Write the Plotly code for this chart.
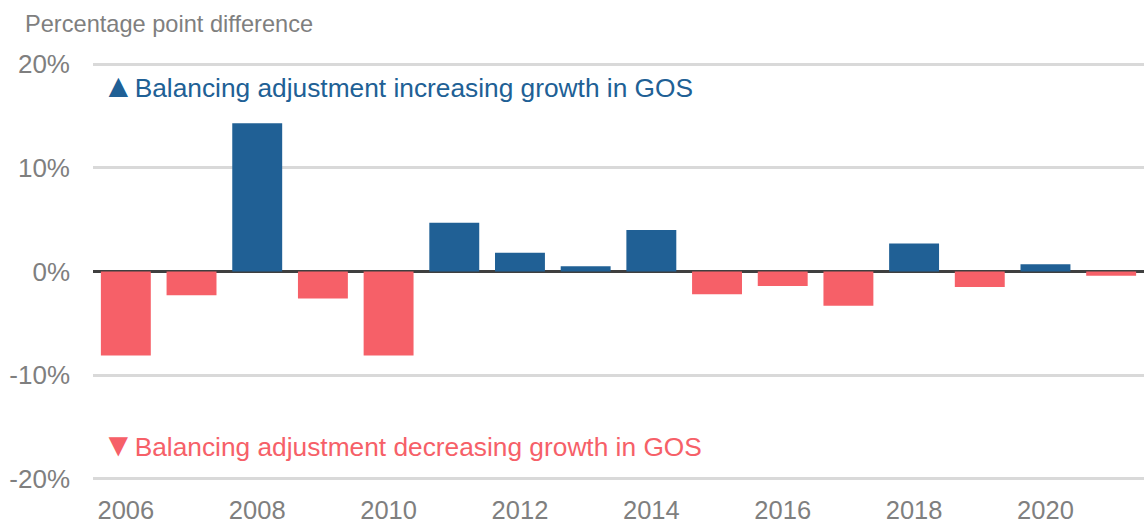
import plotly.graph_objects as go

# Balancing adjustment, percentage point difference in GOS growth
years = [2006, 2007, 2008, 2009, 2010, 2011, 2012, 2013,
         2014, 2015, 2016, 2017, 2018, 2019, 2020, 2021]
values = [-8.1, -2.3, 14.3, -2.6, -8.1, 4.7, 1.8, 0.5,
          4.0, -2.2, -1.4, -3.3, 2.7, -1.5, 0.7, -0.4]

x_ticks = [2006, 2008, 2010, 2012, 2014, 2016, 2018, 2020]
y_ticks = [-20, -10, 0, 10, 20]
y_labels = ["-20%", "-10%", "0%", "10%", "20%"]

BLUE = "#206095"
CORAL = "#F66068"
GREY = "#7f7f7f"
FONT = "Liberation Sans, Arial, sans-serif"

colors = [BLUE if v >= 0 else CORAL for v in values]

fig = go.Figure(
    go.Bar(
        x=years,
        y=values,
        marker=dict(color=colors, line=dict(width=0)),
        width=0.76,
        hoverinfo="x+y",
    )
)

plot_w = 1051

fig.update_layout(
    width=1144,
    height=525,
    margin=dict(l=93, r=0, t=61, b=43),
    paper_bgcolor="white",
    plot_bgcolor="white",
    showlegend=False,
    font=dict(family=FONT, color=GREY, size=26),
    xaxis=dict(
        range=[2005.5, 2021.5],
        tickmode="array",
        tickvals=x_ticks,
        ticktext=[str(t) for t in x_ticks],
        showgrid=False,
        zeroline=False,
        showline=False,
        ticks="",
        automargin=False,
        ticklabelstandoff=10,
        tickfont=dict(family=FONT, size=25.5, color=GREY),
    ),
    yaxis=dict(
        range=[-20.3, 20.3],
        tickmode="array",
        tickvals=y_ticks,
        ticktext=y_labels,
        showgrid=True,
        gridcolor="#d9d9d9",
        gridwidth=2.5,
        zeroline=True,
        zerolinecolor="#3f3f3f",
        zerolinewidth=2.5,
        showline=False,
        ticks="",
        automargin=False,
        ticklabelstandoff=22,
        tickfont=dict(family=FONT, size=26, color=GREY),
    ),
    annotations=[
        dict(
            text="Percentage point difference",
            xref="paper", yref="paper",
            x=-70 / plot_w, y=1,
            xanchor="left", yanchor="bottom", yshift=22,
            showarrow=False,
            font=dict(family=FONT, size=23.6, color=GREY),
        ),
        dict(
            text="<span style='font-size:33px'>▲</span>Balancing adjustment increasing growth in GOS",
            xref="paper", yref="y",
            x=7 / plot_w, y=17.95,
            xanchor="left", yanchor="middle",
            showarrow=False,
            font=dict(family=FONT, size=26.3, color=BLUE),
        ),
        dict(
            text="<span style='font-size:33px'>▼</span>Balancing adjustment decreasing growth in GOS",
            xref="paper", yref="y",
            x=7 / plot_w, y=-16.65,
            xanchor="left", yanchor="middle",
            showarrow=False,
            font=dict(family=FONT, size=26.3, color=CORAL),
        ),
    ],
)

fig.write_html("out.html")
